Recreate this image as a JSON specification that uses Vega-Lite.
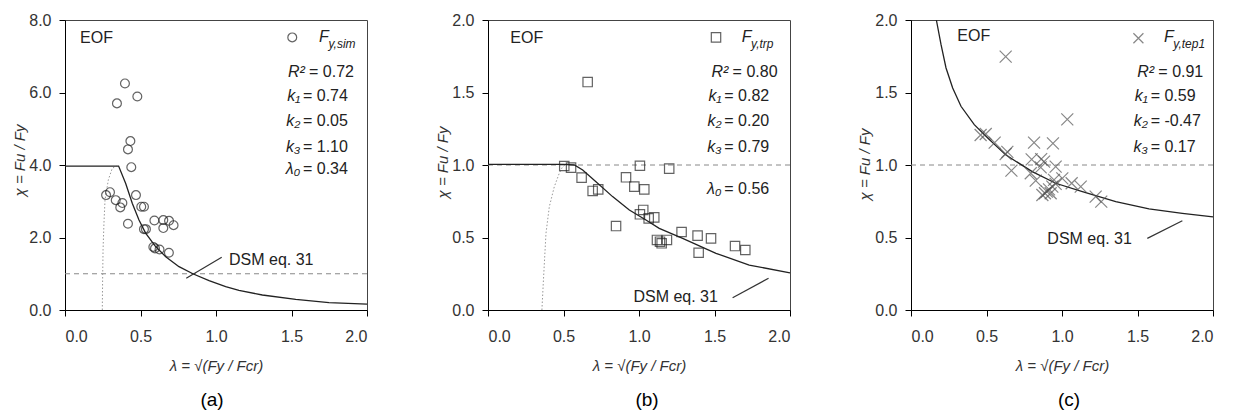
{
  "$schema": "https://vega.github.io/schema/vega-lite/v6.json",
  "background": "white",
  "padding": {"left": 11, "top": 11, "right": 5, "bottom": 5},
  "spacing": 121,
  "bounds": "flush",
  "config": {
    "font": "Liberation Sans",
    "view": {"stroke": "#444", "strokeWidth": 1},
    "axis": {"grid": false, "domainColor": "#000", "tickColor": "#000", "tickSize": 6, "labelPadding": 8, "labelFont": "Liberation Sans", "labelFontSize": 16, "labelColor": "#333", "titleFont": "Liberation Sans", "titleFontSize": 15, "titleFontWeight": "normal", "titleFontStyle": "italic", "titleColor": "#333"},
    "axisX": {"labelPadding": 12},
    "text": {"font": "Liberation Sans"}
  },
  "hconcat": [
    {
      "width": 302, "height": 290,
      "title": {"text": "(a)", "orient": "bottom", "anchor": "middle", "fontSize": 19, "fontWeight": "normal", "font": "Liberation Sans", "color": "#000", "offset": 18, "dx": -4},
      "encoding": {
        "x": {"field": "lam", "type": "quantitative", "scale": {"domain": [0, 2], "nice": false, "zero": false}, "axis": {"values": [0, 0.5, 1, 1.5, 2], "format": ".1f", "title": "λ = √(Fy / Fcr)", "titleX": 151, "titleY": 55, "titleBaseline": "middle", "titleAlign": "center"}},
        "y": {"field": "chi", "type": "quantitative", "scale": {"domain": [0, 8], "nice": false}, "axis": {"values": [0, 2, 4, 6, 8], "format": ".1f", "title": "χ = Fu / Fy", "titleX": -46, "titleY": 140, "titleAngle": -90, "titleBaseline": "middle", "titleAlign": "center"}}
      },
      "layer": [
        {"data": {"values": [{"lam": 0, "chi": 1}, {"lam": 2, "chi": 1}]}, "mark": {"type": "line", "color": "#888", "strokeDash": [5, 4], "strokeWidth": 1}},
        {"data": {"values": [{"lam": 0.247, "chi": 0}, {"lam": 0.249, "chi": 0.8}, {"lam": 0.252, "chi": 1.66}, {"lam": 0.258, "chi": 2.4}, {"lam": 0.265, "chi": 3.03}, {"lam": 0.287, "chi": 3.59}, {"lam": 0.313, "chi": 3.91}, {"lam": 0.34, "chi": 3.97}]}, "mark": {"type": "line", "color": "#999", "strokeDash": [1.5, 2], "strokeWidth": 1}},
        {"data": {"values": [{"lam": 0, "chi": 3.97}, {"lam": 0.355, "chi": 3.97}, {"lam": 0.402, "chi": 3.49}, {"lam": 0.446, "chi": 2.94}, {"lam": 0.49, "chi": 2.48}, {"lam": 0.534, "chi": 2.12}, {"lam": 0.6, "chi": 1.75}, {"lam": 0.667, "chi": 1.47}, {"lam": 0.755, "chi": 1.195}, {"lam": 0.85, "chi": 0.993}, {"lam": 0.954, "chi": 0.81}, {"lam": 1.064, "chi": 0.644}, {"lam": 1.152, "chi": 0.54}, {"lam": 1.307, "chi": 0.414}, {"lam": 1.528, "chi": 0.294}, {"lam": 1.748, "chi": 0.202}, {"lam": 2.0, "chi": 0.163}]}, "mark": {"type": "line", "color": "#222", "strokeWidth": 1.3}},
        {"data": {"values": [{"lam": 0.803, "chi": 0.874}, {"lam": 1.038, "chi": 1.454}]}, "mark": {"type": "line", "color": "#333", "strokeWidth": 1.2}},
        {"data": {"values": [{"lam": 0.397, "chi": 6.25}, {"lam": 0.344, "chi": 5.7}, {"lam": 0.479, "chi": 5.89}, {"lam": 0.433, "chi": 4.66}, {"lam": 0.417, "chi": 4.43}, {"lam": 0.439, "chi": 3.94}, {"lam": 0.272, "chi": 3.17}, {"lam": 0.298, "chi": 3.25}, {"lam": 0.336, "chi": 3.03}, {"lam": 0.38, "chi": 2.95}, {"lam": 0.366, "chi": 2.83}, {"lam": 0.47, "chi": 3.17}, {"lam": 0.505, "chi": 2.85}, {"lam": 0.523, "chi": 2.85}, {"lam": 0.417, "chi": 2.38}, {"lam": 0.523, "chi": 2.23}, {"lam": 0.536, "chi": 2.23}, {"lam": 0.592, "chi": 2.47}, {"lam": 0.651, "chi": 2.48}, {"lam": 0.689, "chi": 2.46}, {"lam": 0.651, "chi": 2.26}, {"lam": 0.719, "chi": 2.34}, {"lam": 0.585, "chi": 1.74}, {"lam": 0.596, "chi": 1.7}, {"lam": 0.626, "chi": 1.67}, {"lam": 0.688, "chi": 1.58}]}, "mark": {"type": "point", "shape": "circle", "size": 78, "filled": false, "color": "#222", "strokeWidth": 1.2}},
        {"data": {"values": [{"lam": 1.505, "chi": 7.52}]}, "mark": {"type": "point", "shape": "circle", "size": 78, "filled": false, "color": "#222", "strokeWidth": 1.2}},
        {"data": {"values": [{"lam": 0.1, "chi": 7.49, "txt": "EOF"}, {"lam": 1.086, "chi": 1.379, "txt": "DSM eq. 31"}]}, "mark": {"type": "text", "align": "left", "baseline": "middle", "fontSize": 16, "color": "#222"}, "encoding": {"text": {"field": "txt"}}},
        {"data": {"values": [{"lam": 1.588, "chi": 6.56, "txt": "R²"}, {"lam": 1.558, "chi": 5.91, "txt": "k₁"}, {"lam": 1.558, "chi": 5.22, "txt": "k₂"}, {"lam": 1.558, "chi": 4.5, "txt": "k₃"}, {"lam": 1.558, "chi": 3.88, "txt": "λ₀"}]}, "mark": {"type": "text", "align": "right", "baseline": "middle", "fontSize": 16, "fontStyle": "italic", "color": "#222"}, "encoding": {"text": {"field": "txt"}}},
        {"data": {"values": [{"lam": 1.616, "chi": 6.56, "txt": "= 0.72"}, {"lam": 1.576, "chi": 5.91, "txt": "= 0.74"}, {"lam": 1.576, "chi": 5.22, "txt": "= 0.05"}, {"lam": 1.576, "chi": 4.5, "txt": "= 1.10"}, {"lam": 1.576, "chi": 3.88, "txt": "= 0.34"}]}, "mark": {"type": "text", "align": "left", "baseline": "middle", "fontSize": 16, "color": "#222"}, "encoding": {"text": {"field": "txt"}}},
        {"data": {"values": [{"lam": 1.682, "chi": 7.53, "txt": "F"}]}, "mark": {"type": "text", "align": "left", "baseline": "middle", "fontSize": 16, "fontStyle": "italic", "color": "#222"}, "encoding": {"text": {"field": "txt"}}},
        {"data": {"values": [{"lam": 1.745, "chi": 7.33, "txt": "y,sim"}]}, "mark": {"type": "text", "align": "left", "baseline": "middle", "fontSize": 12, "fontStyle": "italic", "color": "#222"}, "encoding": {"text": {"field": "txt"}}}
      ]
    },
    {
      "width": 302, "height": 290,
      "title": {"text": "(b)", "orient": "bottom", "anchor": "middle", "fontSize": 19, "fontWeight": "normal", "font": "Liberation Sans", "color": "#000", "offset": 18, "dx": 8},
      "encoding": {
        "x": {"field": "lam", "type": "quantitative", "scale": {"domain": [0, 2], "nice": false, "zero": false}, "axis": {"values": [0, 0.5, 1, 1.5, 2], "format": ".1f", "title": "λ = √(Fy / Fcr)", "titleX": 151, "titleY": 55, "titleBaseline": "middle", "titleAlign": "center"}},
        "y": {"field": "chi", "type": "quantitative", "scale": {"domain": [0, 2], "nice": false}, "axis": {"values": [0, 0.5, 1, 1.5, 2], "format": ".1f", "title": "χ = Fu / Fy", "titleX": -46, "titleY": 142, "titleAngle": -90, "titleBaseline": "middle", "titleAlign": "center"}}
      },
      "layer": [
        {"data": {"values": [{"lam": 0, "chi": 1}, {"lam": 2, "chi": 1}]}, "mark": {"type": "line", "color": "#888", "strokeDash": [5, 4], "strokeWidth": 1}},
        {"data": {"values": [{"lam": 0.357, "chi": 0}, {"lam": 0.366, "chi": 0.184}, {"lam": 0.384, "chi": 0.529}, {"lam": 0.406, "chi": 0.712}, {"lam": 0.439, "chi": 0.85}, {"lam": 0.472, "chi": 0.943}, {"lam": 0.494, "chi": 0.988}, {"lam": 0.51, "chi": 1.0}]}, "mark": {"type": "line", "color": "#999", "strokeDash": [1.5, 2], "strokeWidth": 1}},
        {"data": {"values": [{"lam": 0, "chi": 1.005}, {"lam": 0.5, "chi": 1.005}, {"lam": 0.572, "chi": 1.0}, {"lam": 0.627, "chi": 0.966}, {"lam": 0.715, "chi": 0.885}, {"lam": 0.825, "chi": 0.782}, {"lam": 0.936, "chi": 0.69}, {"lam": 1.046, "chi": 0.621}, {"lam": 1.134, "chi": 0.563}, {"lam": 1.289, "chi": 0.494}, {"lam": 1.51, "chi": 0.391}, {"lam": 1.73, "chi": 0.31}, {"lam": 2.0, "chi": 0.256}]}, "mark": {"type": "line", "color": "#222", "strokeWidth": 1.3}},
        {"data": {"values": [{"lam": 1.62, "chi": 0.085}, {"lam": 1.858, "chi": 0.219}]}, "mark": {"type": "line", "color": "#333", "strokeWidth": 1.2}},
        {"data": {"values": [{"lam": 0.66, "chi": 1.572}, {"lam": 0.505, "chi": 0.993}, {"lam": 0.55, "chi": 0.982}, {"lam": 0.62, "chi": 0.913}, {"lam": 0.693, "chi": 0.821}, {"lam": 0.73, "chi": 0.832}, {"lam": 0.848, "chi": 0.579}, {"lam": 0.914, "chi": 0.915}, {"lam": 0.969, "chi": 0.851}, {"lam": 1.006, "chi": 0.995}, {"lam": 1.035, "chi": 0.832}, {"lam": 1.2, "chi": 0.975}, {"lam": 1.006, "chi": 0.66}, {"lam": 1.028, "chi": 0.69}, {"lam": 1.064, "chi": 0.632}, {"lam": 1.101, "chi": 0.639}, {"lam": 1.119, "chi": 0.483}, {"lam": 1.139, "chi": 0.471}, {"lam": 1.15, "chi": 0.46}, {"lam": 1.185, "chi": 0.483}, {"lam": 1.282, "chi": 0.538}, {"lam": 1.388, "chi": 0.513}, {"lam": 1.395, "chi": 0.395}, {"lam": 1.477, "chi": 0.494}, {"lam": 1.636, "chi": 0.441}, {"lam": 1.704, "chi": 0.414}]}, "mark": {"type": "point", "shape": "square", "size": 88, "filled": false, "color": "#222", "strokeWidth": 1.2}},
        {"data": {"values": [{"lam": 1.51, "chi": 1.88}]}, "mark": {"type": "point", "shape": "square", "size": 88, "filled": false, "color": "#222", "strokeWidth": 1.2}},
        {"data": {"values": [{"lam": 0.148, "chi": 1.874, "txt": "EOF"}, {"lam": 0.963, "chi": 0.092, "txt": "DSM eq. 31"}]}, "mark": {"type": "text", "align": "left", "baseline": "middle", "fontSize": 16, "color": "#222"}, "encoding": {"text": {"field": "txt"}}},
        {"data": {"values": [{"lam": 1.592, "chi": 1.638, "txt": "R²"}, {"lam": 1.547, "chi": 1.477, "txt": "k₁"}, {"lam": 1.547, "chi": 1.305, "txt": "k₂"}, {"lam": 1.547, "chi": 1.125, "txt": "k₃"}, {"lam": 1.547, "chi": 0.833, "txt": "λ₀"}]}, "mark": {"type": "text", "align": "right", "baseline": "middle", "fontSize": 16, "fontStyle": "italic", "color": "#222"}, "encoding": {"text": {"field": "txt"}}},
        {"data": {"values": [{"lam": 1.62, "chi": 1.638, "txt": "= 0.80"}, {"lam": 1.565, "chi": 1.477, "txt": "= 0.82"}, {"lam": 1.565, "chi": 1.305, "txt": "= 0.20"}, {"lam": 1.565, "chi": 1.125, "txt": "= 0.79"}, {"lam": 1.565, "chi": 0.833, "txt": "= 0.56"}]}, "mark": {"type": "text", "align": "left", "baseline": "middle", "fontSize": 16, "color": "#222"}, "encoding": {"text": {"field": "txt"}}},
        {"data": {"values": [{"lam": 1.68, "chi": 1.883, "txt": "F"}]}, "mark": {"type": "text", "align": "left", "baseline": "middle", "fontSize": 16, "fontStyle": "italic", "color": "#222"}, "encoding": {"text": {"field": "txt"}}},
        {"data": {"values": [{"lam": 1.742, "chi": 1.833, "txt": "y,trp"}]}, "mark": {"type": "text", "align": "left", "baseline": "middle", "fontSize": 12, "fontStyle": "italic", "color": "#222"}, "encoding": {"text": {"field": "txt"}}}
      ]
    },
    {
      "width": 302, "height": 290,
      "title": {"text": "(c)", "orient": "bottom", "anchor": "middle", "fontSize": 19, "fontWeight": "normal", "font": "Liberation Sans", "color": "#000", "offset": 18, "dx": 7},
      "encoding": {
        "x": {"field": "lam", "type": "quantitative", "scale": {"domain": [0, 2], "nice": false, "zero": false}, "axis": {"values": [0, 0.5, 1, 1.5, 2], "format": ".1f", "title": "λ = √(Fy / Fcr)", "titleX": 151, "titleY": 55, "titleBaseline": "middle", "titleAlign": "center"}},
        "y": {"field": "chi", "type": "quantitative", "scale": {"domain": [0, 2], "nice": false}, "axis": {"values": [0, 0.5, 1, 1.5, 2], "format": ".1f", "title": "χ = Fu / Fy", "titleX": -47, "titleY": 144, "titleAngle": -90, "titleBaseline": "middle", "titleAlign": "center"}}
      },
      "layer": [
        {"data": {"values": [{"lam": 0, "chi": 1}, {"lam": 2, "chi": 1}]}, "mark": {"type": "line", "color": "#888", "strokeDash": [5, 4], "strokeWidth": 1}},
        {"data": {"values": [{"lam": 0.168, "chi": 2.0}, {"lam": 0.199, "chi": 1.83}, {"lam": 0.232, "chi": 1.669}, {"lam": 0.276, "chi": 1.531}, {"lam": 0.331, "chi": 1.405}, {"lam": 0.419, "chi": 1.278}, {"lam": 0.508, "chi": 1.186}, {"lam": 0.627, "chi": 1.07}, {"lam": 0.803, "chi": 0.954}, {"lam": 0.958, "chi": 0.874}, {"lam": 1.135, "chi": 0.816}, {"lam": 1.356, "chi": 0.747}, {"lam": 1.576, "chi": 0.697}, {"lam": 1.797, "chi": 0.667}, {"lam": 2.0, "chi": 0.642}]}, "mark": {"type": "line", "color": "#222", "strokeWidth": 1.3}},
        {"data": {"values": [{"lam": 1.565, "chi": 0.494}, {"lam": 1.797, "chi": 0.616}]}, "mark": {"type": "line", "color": "#333", "strokeWidth": 1.2}},
        {"data": {"values": [{"lam": 0.627, "chi": 1.747}, {"lam": 1.035, "chi": 1.315}, {"lam": 0.461, "chi": 1.207}, {"lam": 0.495, "chi": 1.214}, {"lam": 0.554, "chi": 1.154}, {"lam": 0.627, "chi": 1.076}, {"lam": 0.638, "chi": 1.09}, {"lam": 0.665, "chi": 0.961}, {"lam": 0.815, "chi": 1.154}, {"lam": 0.94, "chi": 1.149}, {"lam": 0.799, "chi": 1.039}, {"lam": 0.881, "chi": 1.023}, {"lam": 0.859, "chi": 0.984}, {"lam": 0.958, "chi": 0.989}, {"lam": 0.793, "chi": 0.943}, {"lam": 0.826, "chi": 0.892}, {"lam": 0.947, "chi": 0.897}, {"lam": 1.002, "chi": 0.908}, {"lam": 0.887, "chi": 0.805}, {"lam": 0.914, "chi": 0.832}, {"lam": 0.936, "chi": 0.851}, {"lam": 0.958, "chi": 0.87}, {"lam": 0.925, "chi": 0.805}, {"lam": 0.87, "chi": 0.793}, {"lam": 0.9, "chi": 0.816}, {"lam": 1.064, "chi": 0.874}, {"lam": 1.124, "chi": 0.851}, {"lam": 1.223, "chi": 0.782}, {"lam": 1.26, "chi": 0.747}, {"lam": 0.862, "chi": 1.04}]}, "mark": {"type": "point", "shape": "M-1,-1L1,1M-1,1L1,-1", "size": 144, "filled": false, "color": "#555", "strokeWidth": 1.2}},
        {"data": {"values": [{"lam": 1.506, "chi": 1.874}]}, "mark": {"type": "point", "shape": "M-1,-1L1,1M-1,1L1,-1", "size": 100, "filled": false, "color": "#555", "strokeWidth": 1.2}},
        {"data": {"values": [{"lam": 0.307, "chi": 1.89, "txt": "EOF"}, {"lam": 0.903, "chi": 0.487, "txt": "DSM eq. 31"}]}, "mark": {"type": "text", "align": "left", "baseline": "middle", "fontSize": 16, "color": "#222"}, "encoding": {"text": {"field": "txt"}}},
        {"data": {"values": [{"lam": 1.61, "chi": 1.638, "txt": "R²"}, {"lam": 1.569, "chi": 1.477, "txt": "k₁"}, {"lam": 1.569, "chi": 1.305, "txt": "k₂"}, {"lam": 1.569, "chi": 1.125, "txt": "k₃"}]}, "mark": {"type": "text", "align": "right", "baseline": "middle", "fontSize": 16, "fontStyle": "italic", "color": "#222"}, "encoding": {"text": {"field": "txt"}}},
        {"data": {"values": [{"lam": 1.638, "chi": 1.638, "txt": "= 0.91"}, {"lam": 1.587, "chi": 1.477, "txt": "= 0.59"}, {"lam": 1.587, "chi": 1.305, "txt": "= -0.47"}, {"lam": 1.587, "chi": 1.125, "txt": "= 0.17"}]}, "mark": {"type": "text", "align": "left", "baseline": "middle", "fontSize": 16, "color": "#222"}, "encoding": {"text": {"field": "txt"}}},
        {"data": {"values": [{"lam": 1.675, "chi": 1.883, "txt": "F"}]}, "mark": {"type": "text", "align": "left", "baseline": "middle", "fontSize": 16, "fontStyle": "italic", "color": "#222"}, "encoding": {"text": {"field": "txt"}}},
        {"data": {"values": [{"lam": 1.737, "chi": 1.833, "txt": "y,tep1"}]}, "mark": {"type": "text", "align": "left", "baseline": "middle", "fontSize": 12, "fontStyle": "italic", "color": "#222"}, "encoding": {"text": {"field": "txt"}}}
      ]
    }
  ]
}
